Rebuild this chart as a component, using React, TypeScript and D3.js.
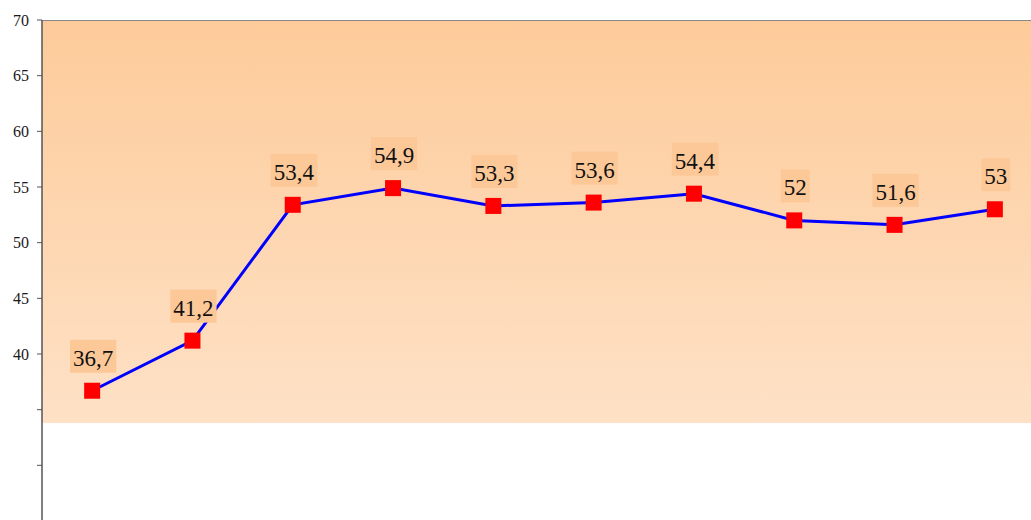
import React, {useEffect, useRef} from 'react'
import * as d3 from 'd3'

const categories = ['1', '2', '3', '4', '5', '6', '7', '8', '9', '10']
const values = [36.7, 41.2, 53.4, 54.9, 53.3, 53.6, 54.4, 52, 51.6, 53]
const tickValues = [70, 65, 60, 55, 50, 45, 40, 35, 30]
const labeledTicks = [70, 65, 60, 55, 50, 45, 40]

const fmt = (v: number) => String(v).replace('.', ',')

export default function App() {
    const svgRef = useRef<SVGSVGElement>(null)

    useEffect(() => {
        const svg = d3.select(svgRef.current)
        svg.selectAll('*').remove()

        const width = 1031
        const height = 520
        const left = 42
        const top = 20
        const plotRight = 1045
        const plotBottom = 423

        const y = d3.scaleLinear().domain([25, 70]).range([521, top])
        const x = d3.scaleBand().domain(categories).range([left, plotRight])

        svg.attr('width', width).attr('height', height)

        const defs = svg.append('defs')
        const grad = defs.append('linearGradient')
            .attr('id', 'bg').attr('x1', 0).attr('y1', 0).attr('x2', 0).attr('y2', 1)
        grad.append('stop').attr('offset', '0%').attr('stop-color', '#fdcb9a')
        grad.append('stop').attr('offset', '100%').attr('stop-color', '#fee1c6')

        svg.append('rect')
            .attr('x', left).attr('y', top)
            .attr('width', plotRight - left).attr('height', plotBottom - top)
            .attr('fill', 'url(#bg)')

        svg.append('line')
            .attr('x1', left).attr('x2', width).attr('y1', top + 0.5).attr('y2', top + 0.5)
            .attr('stroke', '#888').attr('stroke-width', 1)

        // y axis
        const axis = svg.append('g')
        axis.append('line')
            .attr('x1', left).attr('x2', left).attr('y1', top).attr('y2', height)
            .attr('stroke', '#555').attr('stroke-width', 1.5)
        axis.selectAll('line.tick')
            .data(tickValues)
            .join('line')
            .attr('class', 'tick')
            .attr('x1', left - 5).attr('x2', left)
            .attr('y1', (d) => y(d)).attr('y2', (d) => y(d))
            .attr('stroke', '#555').attr('stroke-width', 1)
        axis.selectAll('text')
            .data(labeledTicks)
            .join('text')
            .attr('x', left - 13)
            .attr('y', (d) => y(d))
            .attr('dy', '0.35em')
            .attr('text-anchor', 'end')
            .attr('font-family', 'Liberation Serif, Times New Roman, serif')
            .attr('font-size', 16)
            .attr('fill', '#1a1a1a')
            .text((d) => d)

        const cx = (i: number) => x(categories[i])! + x.bandwidth() / 2

        const line = d3.line<number>()
            .x((_, i) => cx(i))
            .y((d) => y(d))
        svg.append('path')
            .datum(values)
            .attr('d', line)
            .attr('fill', 'none')
            .attr('stroke', '#0000ff')
            .attr('stroke-width', 3)

        svg.selectAll('rect.marker')
            .data(values)
            .join('rect')
            .attr('class', 'marker')
            .attr('x', (_, i) => cx(i) - 8)
            .attr('y', (d) => y(d) - 8)
            .attr('width', 16).attr('height', 16)
            .attr('fill', '#ff0000')

        const labels = svg.selectAll('g.lbl')
            .data(values)
            .join('g')
            .attr('class', 'lbl')
        labels.each(function (d, i) {
            const g = d3.select(this)
            const rect = g.append('rect').attr('fill', '#fdc898')
            const t = g.append('text')
                .attr('x', cx(i) + 1)
                .attr('y', y(d) - 25)
                .attr('text-anchor', 'middle')
                .attr('font-family', 'Liberation Serif, Times New Roman, serif')
                .attr('font-size', 23)
                .attr('fill', '#111')
                .text(fmt(d))
            const bb = (t.node() as SVGTextElement).getBBox()
            rect.attr('x', bb.x - 3).attr('width', bb.width + 6)
                .attr('y', y(d) - 51).attr('height', 33)
        })
    }, [])

    return (
        <svg ref={svgRef} style={{position: 'fixed', left: 0, top: 0, background: '#fff'}} />
    )
}
